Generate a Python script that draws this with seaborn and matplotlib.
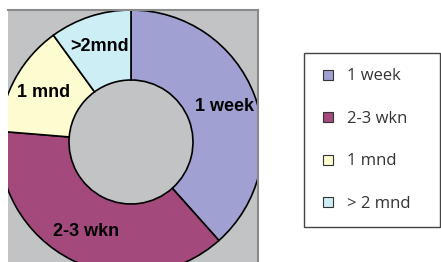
import matplotlib
matplotlib.use('Agg')
import matplotlib.pyplot as plt
import seaborn as sns
from matplotlib.lines import Line2D

# Data (percent of respondents)
categories = ['1 week', '2-3 wkn', '1 mnd', '>2mnd']
legend_labels = ['1 week', '2-3 wkn', '1 mnd', '> 2 mnd']
shares = [38.4, 37.9, 13.7, 10.0]
colors = ['#a0a0d2', '#a3497b', '#fdfbd0', '#cdeef5']

sns.set_theme(style='white')
plt.rcParams['font.family'] = ['Liberation Sans', 'DejaVu Sans']

fig = plt.figure(figsize=(4.41, 2.62), dpi=100)
fig.patch.set_facecolor('white')

# gray plot area, working in pixel units
ax = fig.add_axes([8 / 441, 0, 250 / 441, 252 / 262])
ax.set_facecolor('#c2c3c5')

wedges, texts = ax.pie(shares, labels=categories, colors=colors,
                       startangle=90, counterclock=False,
                       center=(131, 120), radius=132,
                       labeldistance=0.76, frame=True,
                       wedgeprops=dict(width=70, edgecolor='black', linewidth=1.2),
                       textprops=dict(fontsize=13, fontweight='bold', color='black'))
for w in wedges:
    w.set_clip_on(True)
for t in texts:
    t.set_ha('center')
    t.set_clip_on(True)

ax.set_xlim(8, 258)
ax.set_ylim(0, 252)
ax.set_xticks([])
ax.set_yticks([])
for side in ['left', 'bottom']:
    ax.spines[side].set_visible(False)
for side in ['top', 'right']:
    ax.spines[side].set_color('#8a8a8a')
    ax.spines[side].set_linewidth(1.5)

# legend on the right
handles = [Line2D([0], [0], marker='s', linestyle='none', markersize=6.5,
                  markerfacecolor=c, markeredgecolor='#333333', markeredgewidth=0.8)
           for c in colors]
leg = fig.legend(handles, legend_labels, loc='upper left',
                 bbox_to_anchor=(304 / 441, 1 - 56 / 262, (440 - 304) / 441, 0.01),
                 mode='expand', borderaxespad=0, fancybox=False,
                 edgecolor='#444444', framealpha=1,
                 prop={'family': ['Open Sans', 'DejaVu Sans'], 'size': 12},
                 labelcolor='#333333', borderpad=0.9,
                 handlelength=1.1, handletextpad=0.56, labelspacing=1.59)
leg.get_frame().set_linewidth(1.0)

fig.savefig('out.png', dpi=100)
